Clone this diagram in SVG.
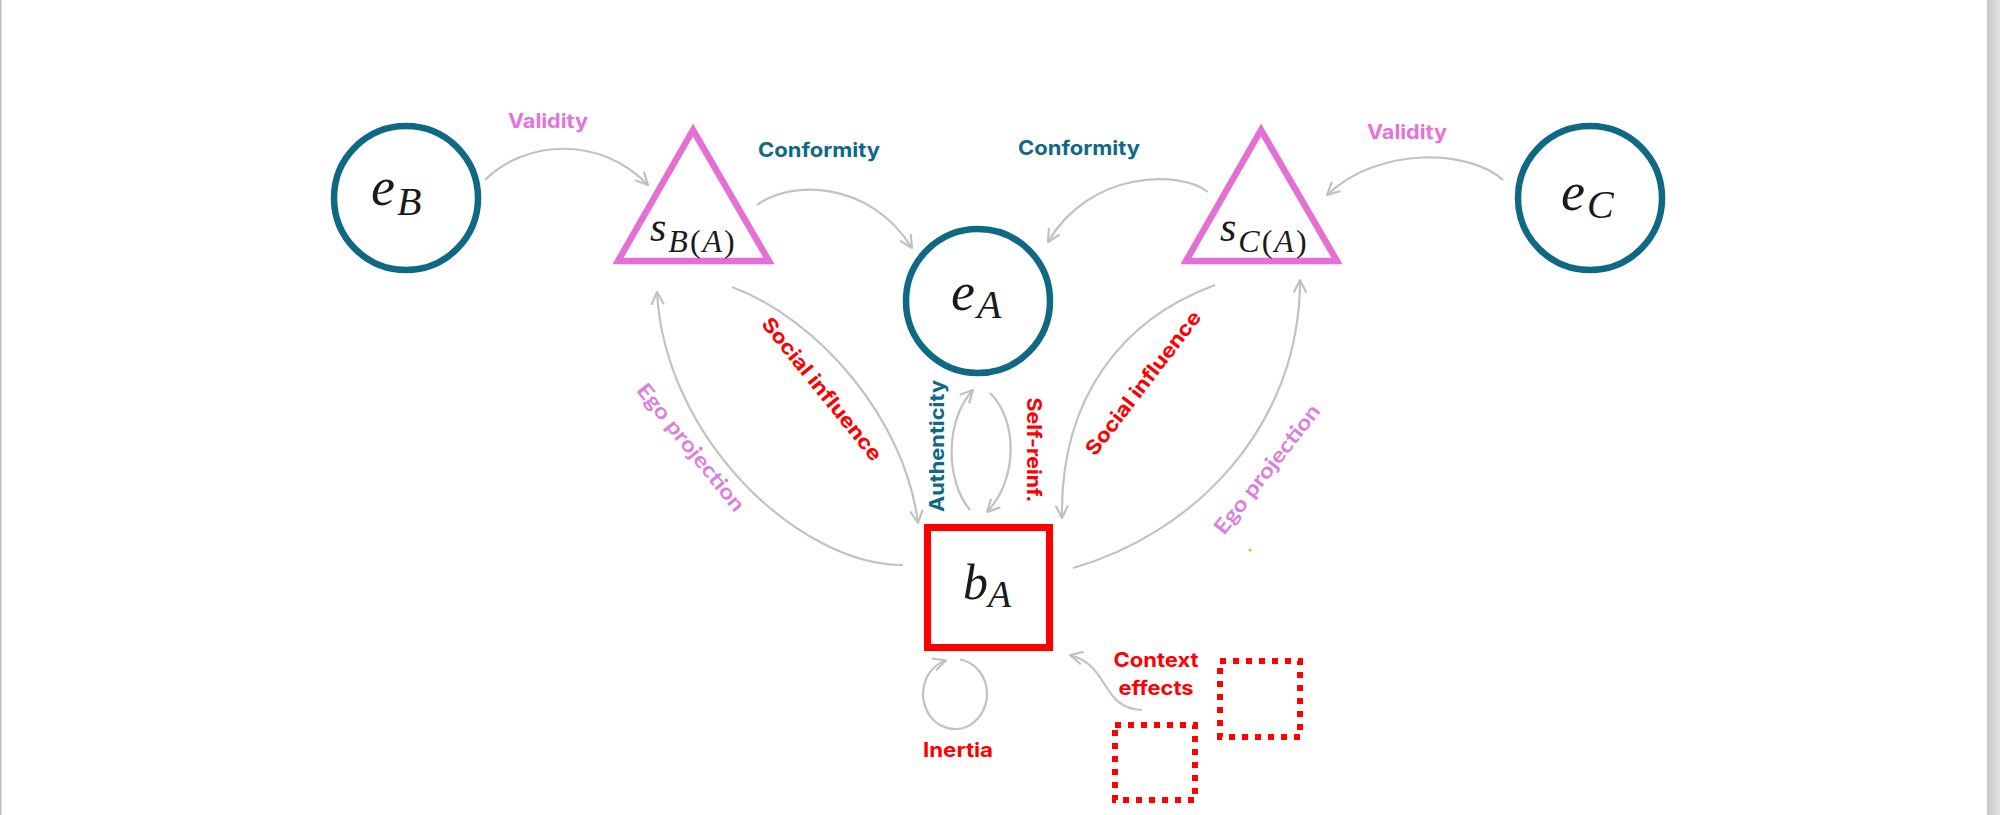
<svg xmlns="http://www.w3.org/2000/svg" width="2000" height="815" viewBox="0 0 2000 815">
  <defs>
    <marker id="arr" markerUnits="userSpaceOnUse" viewBox="0 0 14 14" markerWidth="15" markerHeight="15" refX="12" refY="7" orient="auto">
      <path d="M1,1.5 L12,7 L1,12.5" fill="none" stroke="#c0c0c0" stroke-width="2" stroke-linecap="round" stroke-linejoin="round"/>
    </marker>
    <linearGradient id="edge" x1="0" y1="0" x2="1" y2="0">
      <stop offset="0" stop-color="#c9c9c9"/>
      <stop offset="1" stop-color="#e2e2e2"/>
    </linearGradient>
    <style>
      .conn { fill: none; stroke: #c2c2c2; stroke-width: 2.2; marker-end: url(#arr); }
      .ecirc { fill: #ffffff; stroke: #0f6884; stroke-width: 6.5; }
      .tri { fill: #ffffff; stroke: #e56fd5; stroke-width: 6.5; stroke-linejoin: miter; }
      .math { font-family: "Liberation Serif", "DejaVu Serif", serif; font-style: italic; fill: #1a1a1a; }
      .up { font-style: normal; }
      .lbl { font-family: Inter, "Open Sans", "Liberation Sans", sans-serif; font-weight: 700; font-size: 20px; }
      .teal { fill: #0f6884; }
      .pink { fill: #e772d8; }
      .red { fill: #ff0000; }
      .ego { font-family: Lato, "Open Sans", sans-serif; font-weight: 700; font-size: 21px; fill: #dc7fdc; }
      .dot { fill: none; stroke: #ff0000; stroke-width: 6; stroke-dasharray: 6 7; }
    </style>
  </defs>

  <rect x="0" y="0" width="2000" height="815" fill="#ffffff"/>
  <rect x="0" y="0" width="1.5" height="815" fill="#bdbdbd"/>
  <rect x="1987" y="0" width="13" height="815" fill="url(#edge)"/>

  <g id="connectors">
    <path class="conn" d="M485,180 C525,140 600,135 648,185"/>
    <path class="conn" d="M757,205 C790,180 870,180 912,248"/>
    <path class="conn" d="M1208,192 C1180,170 1090,170 1048,242"/>
    <path class="conn" d="M1503,180 C1470,150 1380,145 1327,195"/>
    <path class="conn" d="M732,287 C820,320 905,420 918,523"/>
    <path class="conn" d="M903,565 C800,565 665,440 657,292"/>
    <path class="conn" d="M970,510 C945,480 945,420 973,390"/>
    <path class="conn" d="M990,393 C1018,420 1018,480 987,512"/>
    <path class="conn" d="M1215,285 C1120,320 1060,400 1062,518"/>
    <path class="conn" d="M1073,568 C1190,535 1300,430 1300,280"/>
    <path class="conn" d="M960,659.5 A32,35 0 1 1 946,660.5"/>
    <path class="conn" d="M1142,710 C1100,708 1110,665 1070,655"/>
  </g>

  <g id="labels">
    <text class="lbl pink" x="548" y="128" text-anchor="middle" textLength="80" lengthAdjust="spacingAndGlyphs">Validity</text>
    <text class="lbl pink" x="1407" y="139" text-anchor="middle" textLength="80" lengthAdjust="spacingAndGlyphs">Validity</text>
    <text class="lbl teal" x="819" y="157" text-anchor="middle" textLength="122" lengthAdjust="spacingAndGlyphs">Conformity</text>
    <text class="lbl teal" x="1079" y="155" text-anchor="middle" textLength="122" lengthAdjust="spacingAndGlyphs">Conformity</text>
    <text class="lbl red" transform="translate(822,389) rotate(51)" x="0" y="7" text-anchor="middle" textLength="178" lengthAdjust="spacingAndGlyphs">Social influence</text>
    <text class="lbl red" transform="translate(1143,383) rotate(-52.5)" x="0" y="7" text-anchor="middle" textLength="176" lengthAdjust="spacingAndGlyphs">Social influence</text>
    <text class="ego" transform="translate(690,448) rotate(51)" x="0" y="6" text-anchor="middle" textLength="158" lengthAdjust="spacingAndGlyphs">Ego projection</text>
    <text class="ego" transform="translate(1268,470) rotate(-52)" x="0" y="6" text-anchor="middle" textLength="158" lengthAdjust="spacingAndGlyphs">Ego projection</text>
    <text class="lbl teal" transform="translate(937,446) rotate(-90)" x="0" y="7" text-anchor="middle" textLength="132" lengthAdjust="spacingAndGlyphs">Authenticity</text>
    <text class="lbl red" transform="translate(1035,450) rotate(90)" x="0" y="8" text-anchor="middle" textLength="105" lengthAdjust="spacingAndGlyphs">Self-reinf.</text>
    <text class="lbl red" x="958" y="757" text-anchor="middle" textLength="70" lengthAdjust="spacingAndGlyphs">Inertia</text>
    <text class="lbl red" x="1156" y="667" text-anchor="middle" textLength="85" lengthAdjust="spacingAndGlyphs">Context</text>
    <text class="lbl red" x="1156" y="695" text-anchor="middle" textLength="75" lengthAdjust="spacingAndGlyphs">effects</text>
  </g>

  <g id="node-eB">
    <circle class="ecirc" cx="406" cy="198" r="72"/>
    <text class="math" x="371" y="205" font-size="54">e<tspan font-size="40" dx="2" dy="10">B</tspan></text>
  </g>

  <g id="node-sBA">
    <polygon class="tri" points="693,130 618,261 769,261"/>
    <text class="math" x="650" y="241" font-size="42">s<tspan font-size="32" dx="2" dy="11" letter-spacing="2">B<tspan class="up">(</tspan>A<tspan class="up">)</tspan></tspan></text>
  </g>

  <g id="node-eA">
    <circle class="ecirc" cx="978" cy="301" r="72"/>
    <text class="math" x="951" y="310" font-size="54">e<tspan font-size="40" dx="2" dy="8">A</tspan></text>
  </g>

  <g id="node-sCA">
    <polygon class="tri" points="1261,130 1186,261 1337,261"/>
    <text class="math" x="1220" y="241" font-size="42">s<tspan font-size="32" dx="2" dy="11" letter-spacing="2">C<tspan class="up">(</tspan>A<tspan class="up">)</tspan></tspan></text>
  </g>

  <g id="node-eC">
    <circle class="ecirc" cx="1590" cy="198" r="72"/>
    <text class="math" x="1561" y="210" font-size="54">e<tspan font-size="40" dx="2" dy="8">C</tspan></text>
  </g>

  <g id="node-bA">
    <rect x="927.5" y="527.5" width="122" height="120" fill="#ffffff" stroke="#ff0000" stroke-width="7"/>
    <text class="math" x="963" y="599" font-size="50">b<tspan font-size="38" dx="0" dy="8">A</tspan></text>
  </g>

  <g id="context-box-1">
    <rect class="dot" x="1115" y="725" width="80" height="75"/>
  </g>
  <g id="context-box-2">
    <rect class="dot" x="1220" y="661" width="80" height="76"/>
  </g>

  <circle cx="1250" cy="550" r="1.5" fill="#f2b200"/>
</svg>
